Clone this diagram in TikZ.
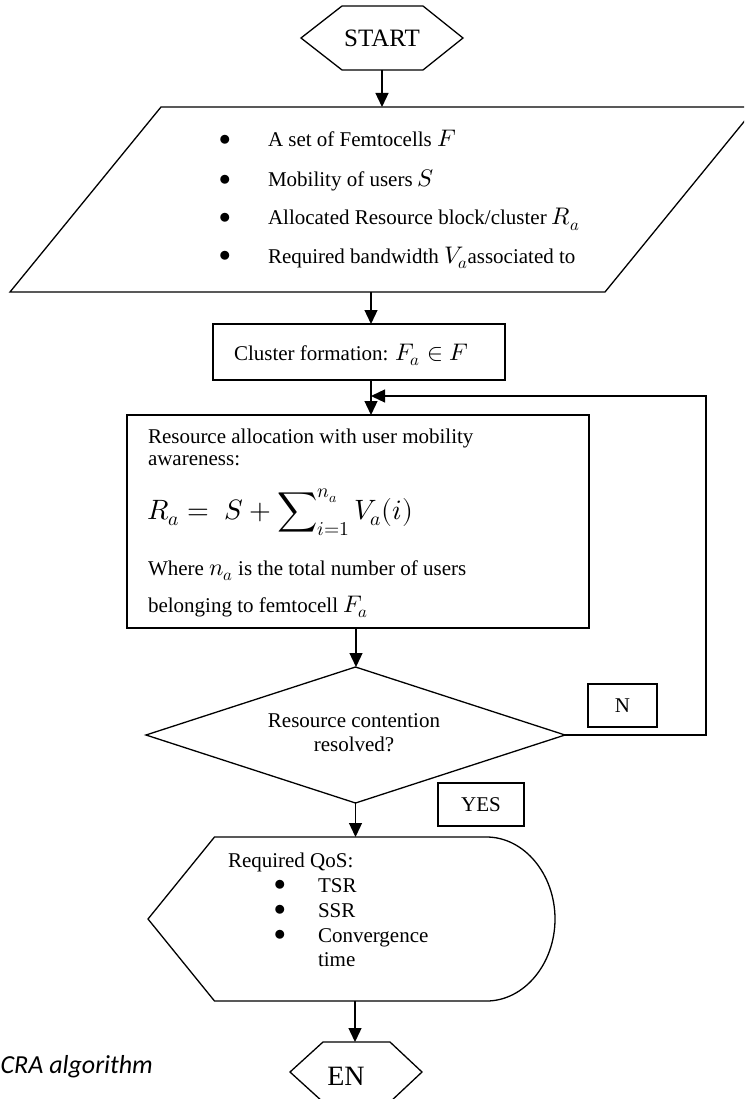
\documentclass[tikz,border=0pt]{standalone}
\usepackage{fontspec}
\usepackage{unicode-math}
\setmainfont{Liberation Serif}
\setmathfont{latinmodern-math.otf}
\newfontfamily\capfont{Carlito}
\usetikzlibrary{arrows.meta,calc}
\newcommand{\mth}[1]{{\fontsize{24}{24}\selectfont$#1$}}
\newcommand{\bul}{{\fontsize{23}{23}\selectfont$\bullet$}}
\begin{document}
\begin{tikzpicture}[x=1pt,y=-1pt,
  line width=1.3pt,
  box/.style={draw=none, rectangle, inner sep=0pt, outer sep=0pt},
  txt/.style={inner sep=0pt, outer sep=0pt, anchor=base west, font=\fontsize{21}{25}\selectfont},
  bl/.style={inner sep=0pt, outer sep=0pt},
  arr/.style={-{Triangle[length=14pt,width=13pt]}},
  lbl/.style={draw, rectangle, inner sep=0pt, outer sep=0pt, font=\fontsize{21}{25}\selectfont}
]
\useasboundingbox (0,0) rectangle (744,1099);
\clip (0,0) rectangle (744,1099);

% START
\node[box, minimum width=162pt, minimum height=64pt, font=\fontsize{25}{28}\selectfont] (start) at (382,38) {START};
\draw (start.west) -- ([xshift=41pt]start.north west) -- ([xshift=-40pt]start.north east) -- (start.east) -- ([xshift=-40pt]start.south east) -- ([xshift=41pt]start.south west) -- cycle;

% input parallelogram
\node[box, minimum width=746pt, minimum height=185pt] (input) at (383,199.5) {};
\draw (input.south west) -- ([xshift=151pt]input.north west) -- (input.north east) -- ([xshift=-151pt]input.south east) -- cycle;
\node[bl] (b1) at (225,140) {\bul};
\node[bl] (b2) at (225,180) {\bul};
\node[bl] (b3) at (225,218) {\bul};
\node[bl] (b4) at (225,256) {\bul};
\node[txt] (i1) at (268,147) {A set of Femtocells \mth{F}};
\node[txt] (i2) at (268,187) {Mobility of users \mth{S}};
\node[txt] (i3) at (268,225) {Allocated Resource block/cluster \mth{R_a}};
\node[txt] (i4) at (268,263) {Required bandwidth \mth{V_a}associated to};

\coordinate (colx) at (371,0);
\coordinate (colxb) at (356,0);
\coordinate (colxc) at (355,0);

% cluster
\node[box, draw, minimum width=292pt, minimum height=56pt] (cluster) at (359,352) {};
\node[txt] (cltxt) at (234,360) {Cluster formation: \mth{F_a \in F}};

% resource allocation box
\node[box, draw, minimum width=462pt, minimum height=213pt] (res) at (358,521.5) {};
\node[txt] (r1) at (148,443) {Resource allocation with user mobility};
\node[txt] (r2) at (148,465) {awareness:};
\node[inner sep=0pt, anchor=base west, font=\fontsize{28}{30}\selectfont] (form) at (147,519) {$\displaystyle R_a = \ S + \sum\nolimits_{i=1}^{n_a} V_a(i)$};
\node[txt] (r4) at (148,575) {Where \mth{n_a} is the total number of users};
\node[txt] (r5) at (148,612) {belonging to femtocell \mth{F_a}};

% decision
\node[box, minimum width=419pt, minimum height=136pt] (dia) at (355.5,735) {};
\draw (dia.north) -- (dia.east) -- (dia.south) -- (dia.west) -- cycle;
\node[inner sep=0pt, anchor=base, font=\fontsize{21}{25}\selectfont] (d1) at (354,727) {Resource contention};
\node[inner sep=0pt, anchor=base, font=\fontsize{21}{25}\selectfont] (d2) at (354,751) {resolved?};

\node[lbl, minimum width=69pt, minimum height=43pt] (nbox) at (622.5,705.5) {N};
\node[lbl, minimum width=86pt, minimum height=43pt] (yesbox) at (481,804.5) {YES};

% QoS display shape
\node[box, minimum width=407pt, minimum height=164pt] (qos) at (351.5,919) {};
\draw (qos.west) -- (214.5,837) -- (486.5,837) .. controls (524,837) and (555,874) .. (qos.east) .. controls (555,964) and (524,1001) .. (486.5,1001) -- (214.5,1001) -- cycle;
\node[txt] (q0) at (228,867) {Required QoS:};
\node[bl] (qb1) at (280,885) {\bul};
\node[bl] (qb2) at (280,910) {\bul};
\node[bl] (qb3) at (280,935) {\bul};
\node[txt] (q1) at (318,892) {TSR};
\node[txt] (q2) at (318,917) {SSR};
\node[txt] (q3) at (318,942) {Convergence};
\node[txt] (q4) at (318,966) {time};

% END
\node[box, minimum width=132pt, minimum height=60pt] (en) at (356,1072) {};
\draw (en.west) -- (323,1042) -- (390,1042) -- (en.east) -- (390,1102) -- (323,1102) -- cycle;
\node[inner sep=0pt, anchor=base, font=\fontsize{28}{30}\selectfont] (entxt) at (346,1085) {EN};

% caption
\node[inner sep=0pt, anchor=base west, font=\capfont\itshape\fontsize{26}{30}\selectfont] (cap) at (0,1073) {CRA algorithm};

% connectors
\coordinate (merge) at (371,396);
\coordinate (loopc) at (706,396);
\draw[arr] (start.south) -- (start.south |- input.north);
\draw[arr] (input.south -| colx) -- (cluster.north -| colx);
\draw[arr] (cluster.south -| colx) -- (res.north -| colx);
\draw[arr] (res.south -| colxb) -- (dia.north -| colxb);
\draw[arr] (dia.south) -- (dia.south |- qos.north);
\draw[arr] (qos.south -| colxc) -- (en.north -| colxc);
\draw[arr] (dia.east) -| (loopc) -- (merge);
\end{tikzpicture}
\end{document}
